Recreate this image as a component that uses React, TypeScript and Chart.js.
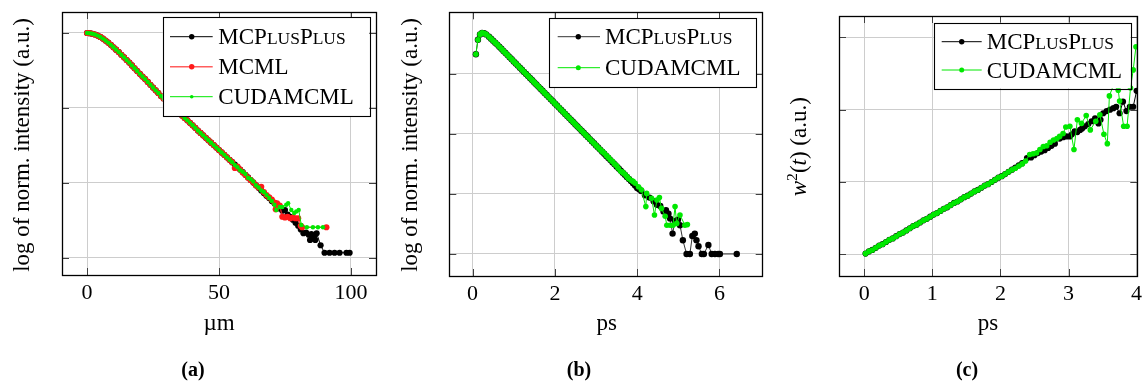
import React, { useEffect, useRef } from 'react';
import { Chart, registerables } from 'chart.js';

Chart.register(...registerables);

const FONT = '"Liberation Serif", "Times New Roman", serif';

// ---------------- Panel (a): radial profile, log of norm. intensity vs µm ----------------
const aXTicks = [0, 50, 100];
const aYTicks = [0, -1, -2, -3];
const aMainX = [0, 1, 2, 3, 4, 5, 6, 7, 8, 9, 10, 11, 12, 13, 14, 15, 16, 17, 18, 19, 20, 21, 22, 23, 24, 25, 26, 27, 28, 29, 30, 31, 32, 33, 34, 35, 36, 37, 38, 39, 40, 41, 42, 43, 44, 45, 46, 47, 48, 49, 50, 51, 52, 53, 54, 55];
const aMainY = [0, -0.003, -0.01, -0.02, -0.035, -0.053, -0.075, -0.1, -0.128, -0.158, -0.19, -0.222, -0.255, -0.29, -0.325, -0.36, -0.395, -0.432, -0.47, -0.507, -0.545, -0.58, -0.615, -0.652, -0.69, -0.727, -0.765, -0.8, -0.84, -0.872, -0.905, -0.938, -0.97, -1.003, -1.035, -1.068, -1.1, -1.133, -1.165, -1.198, -1.23, -1.265, -1.3, -1.333, -1.365, -1.398, -1.43, -1.463, -1.495, -1.528, -1.56, -1.593, -1.625, -1.658, -1.69, -1.723];
const aBlackTailX = [56, 57, 58, 59, 60, 61, 62, 63, 64, 65, 66, 67, 68, 69, 70, 71, 72, 73, 74, 75, 76, 77, 78, 79, 80, 81, 82, 83, 84, 84.5, 85, 85.5, 86, 86.5, 87, 88.5, 90, 91.9, 93.8, 95.7, 98.3, 99.5];
const aBlackTailY = [-1.755, -1.79, -1.82, -1.855, -1.89, -1.925, -1.96, -1.995, -2.03, -2.065, -2.1, -2.135, -2.17, -2.2, -2.24, -2.27, -2.31, -2.34, -2.37, -2.36, -2.42, -2.45, -2.49, -2.53, -2.57, -2.62, -2.67, -2.66, -2.69, -2.76, -2.68, -2.74, -2.72, -2.76, -2.67, -2.83, -2.93, -2.93, -2.93, -2.93, -2.93, -2.93];
const aRedTailX = [56, 57, 58, 59, 60, 61, 62, 63, 64, 65, 66, 67, 68, 69, 70, 71, 71.5, 72, 73, 74, 75, 76, 77, 78, 79, 80, 81, 81.5, 90.7];
const aRedTailY = [-1.8, -1.78, -1.82, -1.86, -1.89, -1.93, -1.96, -1.99, -2.03, -2.06, -2.05, -2.12, -2.16, -2.19, -2.22, -2.26, -2.35, -2.27, -2.3, -2.45, -2.46, -2.45, -2.47, -2.46, -2.47, -2.47, -2.57, -2.59, -2.59];
const aGreenTailX = [56, 57, 58, 59, 60, 61, 62, 63, 64, 65, 66, 67, 68, 69, 70, 71, 71.7, 73, 74, 75.5, 76.2, 77.4, 78.5, 79.3, 80.2, 81.2, 83.3, 85.6, 87.5, 89.4];
const aGreenTailY = [-1.76, -1.79, -1.83, -1.85, -1.88, -1.93, -1.95, -1.98, -2.03, -2.06, -2.1, -2.12, -2.16, -2.2, -2.24, -2.29, -2.36, -2.32, -2.32, -2.29, -2.27, -2.36, -2.4, -2.38, -2.36, -2.56, -2.59, -2.59, -2.59, -2.59];

// ---------------- Panel (b): temporal profile, log of norm. intensity vs ps ----------------
const bXTicks = [0, 2, 4, 6];
const bYTicks = [0, -1, -2, -3];
const bMainX = [0.08, 0.13, 0.18, 0.23, 0.28, 0.33, 0.4, 0.45, 0.5, 0.55, 0.6, 0.65, 0.7, 0.75, 0.8, 0.85, 0.9, 0.95, 1.0, 1.05, 1.1, 1.15, 1.2, 1.25, 1.3, 1.35, 1.4, 1.45, 1.5, 1.55, 1.6, 1.65, 1.7, 1.75, 1.8, 1.85, 1.9, 1.95, 2.0, 2.05, 2.1, 2.15, 2.2, 2.25, 2.3, 2.35, 2.4, 2.45, 2.5, 2.55, 2.6, 2.65, 2.7, 2.75, 2.8, 2.85, 2.9, 2.95, 3.0, 3.05, 3.1];
const bMainY = [0.33, 0.57, 0.66, 0.685, 0.68, 0.66, 0.62, 0.588, 0.555, 0.522, 0.49, 0.455, 0.42, 0.385, 0.35, 0.315, 0.28, 0.245, 0.21, 0.175, 0.14, 0.105, 0.07, 0.035, 0.0, -0.035, -0.07, -0.105, -0.14, -0.175, -0.21, -0.245, -0.28, -0.315, -0.35, -0.385, -0.42, -0.455, -0.49, -0.525, -0.56, -0.595, -0.63, -0.665, -0.7, -0.735, -0.77, -0.805, -0.84, -0.875, -0.91, -0.945, -0.98, -1.015, -1.05, -1.085, -1.12, -1.155, -1.19, -1.225, -1.26];
const bBlackTailX = [3.15, 3.2, 3.25, 3.3, 3.35, 3.4, 3.45, 3.5, 3.55, 3.6, 3.65, 3.7, 3.75, 3.8, 3.85, 3.9, 3.95, 4.0, 4.05, 4.1, 4.19, 4.3, 4.4, 4.48, 4.56, 4.64, 4.7, 4.76, 4.8, 4.86, 4.92, 4.99, 5.04, 5.11, 5.2, 5.28, 5.34, 5.4, 5.44, 5.49, 5.57, 5.62, 5.73, 5.81, 5.89, 5.97, 6.01, 6.42];
const bBlackTailY = [-1.295, -1.33, -1.365, -1.4, -1.435, -1.47, -1.505, -1.54, -1.575, -1.61, -1.645, -1.68, -1.715, -1.75, -1.785, -1.82, -1.86, -1.9, -1.92, -1.95, -2.02, -2.06, -2.12, -2.18, -2.2, -2.29, -2.27, -2.33, -2.41, -2.66, -2.45, -2.43, -2.52, -2.77, -3.0, -3.0, -2.7, -2.66, -2.77, -2.87, -3.0, -3.0, -2.85, -3.0, -3.0, -3.0, -3.0, -3.0];
const bGreenTailX = [3.15, 3.2, 3.25, 3.3, 3.35, 3.4, 3.45, 3.5, 3.54, 3.6, 3.65, 3.7, 3.75, 3.79, 3.85, 3.9, 3.95, 4.03, 4.1, 4.21, 4.23, 4.35, 4.42, 4.48, 4.54, 4.59, 4.68, 4.72, 4.8, 4.87, 4.92, 4.96, 5.04, 5.16, 5.22];
const bGreenTailY = [-1.29, -1.32, -1.36, -1.39, -1.43, -1.46, -1.5, -1.53, -1.57, -1.62, -1.64, -1.67, -1.71, -1.74, -1.77, -1.79, -1.82, -1.88, -1.93, -2.21, -1.99, -2.07, -2.35, -2.1, -2.06, -2.24, -2.37, -2.52, -2.52, -2.52, -2.21, -2.49, -2.35, -2.52, -2.51];

// ---------------- Panel (c): w^2(t) vs ps ----------------
const cXTicks = [0, 1, 2, 3, 4];
const cYTicks = [0, 1, 2, 3];
const cMainX = [0.02, 0.07, 0.12, 0.17, 0.22, 0.27, 0.32, 0.37, 0.42, 0.47, 0.52, 0.57, 0.62, 0.67, 0.72, 0.77, 0.82, 0.87, 0.92, 0.97, 1.02, 1.07, 1.12, 1.17, 1.22, 1.27, 1.32, 1.37, 1.42, 1.47, 1.52, 1.57, 1.62, 1.67, 1.72, 1.77, 1.82, 1.87, 1.92, 1.97, 2.02, 2.07, 2.12, 2.17];
const cMainY = [0.01, 0.04, 0.06, 0.09, 0.12, 0.14, 0.17, 0.2, 0.22, 0.25, 0.28, 0.3, 0.33, 0.36, 0.39, 0.41, 0.44, 0.47, 0.49, 0.52, 0.55, 0.57, 0.6, 0.63, 0.65, 0.68, 0.71, 0.73, 0.76, 0.79, 0.81, 0.84, 0.87, 0.89, 0.92, 0.95, 0.97, 1.0, 1.03, 1.06, 1.08, 1.11, 1.14, 1.17];
const cBlackTailX = [2.22, 2.27, 2.32, 2.39, 2.45, 2.5, 2.55, 2.6, 2.65, 2.7, 2.75, 2.8, 2.87, 2.92, 2.97, 3.02, 3.05, 3.09, 3.13, 3.17, 3.2, 3.24, 3.29, 3.34, 3.39, 3.44, 3.47, 3.51, 3.56, 3.61, 3.66, 3.7, 3.75, 3.8, 3.85, 3.9, 3.95, 4.0];
const cBlackTailY = [1.2, 1.23, 1.26, 1.33, 1.34, 1.37, 1.4, 1.42, 1.44, 1.47, 1.5, 1.53, 1.6, 1.62, 1.63, 1.63, 1.66, 1.7, 1.69, 1.72, 1.74, 1.77, 1.8, 1.84, 1.88, 1.81, 1.86, 1.95, 1.98, 2.0, 2.02, 2.04, 1.95, 2.11, 1.98, 2.04, 2.04, 2.26];
const cGreenTailX = [2.22, 2.27, 2.32, 2.37, 2.43, 2.48, 2.53, 2.58, 2.63, 2.68, 2.73, 2.78, 2.83, 2.87, 2.92, 2.96, 3.02, 3.08, 3.13, 3.19, 3.26, 3.32, 3.4, 3.46, 3.52, 3.57, 3.6, 3.68, 3.73, 3.75, 3.81, 3.86, 3.91, 3.95, 3.99];
const cGreenTailY = [1.19, 1.22, 1.25, 1.29, 1.38, 1.39, 1.4, 1.45, 1.49, 1.5, 1.55, 1.58, 1.6, 1.63, 1.67, 1.76, 1.77, 1.45, 1.86, 1.81, 1.92, 1.72, 1.84, 1.93, 1.66, 1.53, 2.19, 2.39, 2.27, 2.12, 1.77, 1.77, 2.3, 2.55, 2.87];

// ---------------- Labels ----------------
const labelMCPP = [{ t: 'MCP' }, { t: 'lus', sc: true }, { t: 'P' }, { t: 'lus', sc: true }];
const labelMCML = [{ t: 'MCML' }];
const labelCUDA = [{ t: 'CUDAMCML' }];
const yTitleLog = [{ t: 'log of norm. intensity (a.u.)' }];
const yTitleW = [{ t: 'w', it: true }, { t: '2', sup: true }, { t: '(' }, { t: 't', it: true }, { t: ')' }, { t: ' (a.u.)' }];

const BLACK = '#000000';
const RED = '#ff1a1a';
const GREEN = 'rgb(0,232,0)';

type Seg = { t: string; sc?: boolean; it?: boolean; sup?: boolean };

function drawSegs(ctx: CanvasRenderingContext2D, segs: Seg[], x: number, y: number, size: number, align: 'left' | 'center', weight = '') {
  const fontFor = (s: Seg) => `${s.it ? 'italic ' : ''}${weight}${(s.sc ? 0.76 : s.sup ? 0.68 : 1) * size}px ${FONT}`;
  const txt = (s: Seg) => (s.sc ? s.t.toUpperCase() : s.t);
  let total = 0;
  for (const s of segs) {
    ctx.font = fontFor(s);
    total += ctx.measureText(txt(s)).width;
  }
  let cx = align === 'center' ? x - total / 2 : x;
  ctx.textAlign = 'left';
  ctx.textBaseline = 'alphabetic';
  for (const s of segs) {
    ctx.font = fontFor(s);
    ctx.fillText(txt(s), cx, s.sup ? y - size * 0.4 : y);
    cx += ctx.measureText(txt(s)).width;
  }
}

const pts = (xs: number[], ys: number[]) => xs.map((x, i) => ({ x, y: ys[i] }));

type SeriesDef = { label: Seg[]; xs: number[]; ys: number[]; color: string; lineColor: string; lineWidth: number; radius: number; legendRadius: number; order: number };

type PanelDef = {
  left: number; W: number; H: number;
  area: { l: number; r: number; t: number; b: number };
  xMin: number; xMax: number; yMin: number; yMax: number;
  xTicks: number[]; yTicks: number[];
  series: SeriesDef[];
  legend: { x0: number; x1: number; y0: number; y1: number; rows: number[]; s0: number; s1: number; m: number; tx: number };
  xTitle: string; xTitleX: number;
  yTitle: Seg[]; yTitleX: number; yTitleY: number;
  caption: string; captionX: number;
};

const panels: PanelDef[] = [
  {
    left: 0, W: 380, H: 383,
    area: { l: 62, r: 376, t: 12, b: 275 },
    xMin: -9.5, xMax: 109.5, yMin: -3.227, yMax: 0.28,
    xTicks: aXTicks, yTicks: aYTicks,
    series: [
      { label: labelMCPP, xs: [...aMainX, ...aBlackTailX], ys: [...aMainY, ...aBlackTailY], color: BLACK, lineColor: BLACK, lineWidth: 1, radius: 3.1, legendRadius: 2.7, order: 3 },
      { label: labelMCML, xs: [...aMainX, ...aRedTailX], ys: [...aMainY, ...aRedTailY], color: RED, lineColor: 'rgba(255,40,40,0.75)', lineWidth: 1.6, radius: 3.1, legendRadius: 2.7, order: 2 },
      { label: labelCUDA, xs: [...aMainX, ...aGreenTailX], ys: [...aMainY, ...aGreenTailY], color: GREEN, lineColor: GREEN, lineWidth: 1, radius: 2.2, legendRadius: 1.8, order: 1 },
    ],
    legend: { x0: 162.7, x1: 369.3, y0: 17.3, y1: 116, rows: [36.7, 66.7, 96.7], s0: 170, s1: 212.7, m: 191.7, tx: 218.3 },
    xTitle: 'µm', xTitleX: 219,
    yTitle: yTitleLog, yTitleX: 29, yTitleY: 145,
    caption: '(a)', captionX: 193,
  },
  {
    left: 380, W: 390, H: 383,
    area: { l: 69.3, r: 382.7, t: 12.3, b: 276 },
    xMin: -0.566, xMax: 7.05, yMin: -3.367, yMax: 1.028,
    xTicks: bXTicks, yTicks: bYTicks,
    series: [
      { label: labelMCPP, xs: [...bMainX, ...bBlackTailX], ys: [...bMainY, ...bBlackTailY], color: BLACK, lineColor: 'rgba(0,0,0,0.8)', lineWidth: 1, radius: 3.2, legendRadius: 2.7, order: 2 },
      { label: labelCUDA, xs: [...bMainX, ...bGreenTailX], ys: [...bMainY, ...bGreenTailY], color: GREEN, lineColor: GREEN, lineWidth: 1, radius: 2.8, legendRadius: 2.5, order: 1 },
    ],
    legend: { x0: 169.3, x1: 376.7, y0: 18.3, y1: 87.3, rows: [36.7, 67.7], s0: 177.7, s1: 220, m: 198.3, tx: 225 },
    xTitle: 'ps', xTitleX: 226.7,
    yTitle: yTitleLog, yTitleX: 36.7, yTitleY: 145,
    caption: '(b)', captionX: 199,
  },
  {
    left: 760, W: 385, H: 383,
    area: { l: 79, r: 377.3, t: 16, b: 276 },
    xMin: -0.37, xMax: 4.01, yMin: -0.3, yMax: 3.295,
    xTicks: cXTicks, yTicks: cYTicks,
    series: [
      { label: labelMCPP, xs: [...cMainX, ...cBlackTailX], ys: [...cMainY, ...cBlackTailY], color: BLACK, lineColor: BLACK, lineWidth: 1, radius: 3.1, legendRadius: 2.7, order: 2 },
      { label: labelCUDA, xs: [...cMainX, ...cGreenTailX], ys: [...cMainY, ...cGreenTailY], color: GREEN, lineColor: GREEN, lineWidth: 1, radius: 2.8, legendRadius: 2.5, order: 1 },
    ],
    legend: { x0: 173.7, x1: 370.7, y0: 22.7, y1: 88.3, rows: [41.7, 70], s0: 181.7, s1: 221.7, m: 201.7, tx: 226.7 },
    xTitle: 'ps', xTitleX: 228,
    yTitle: yTitleW, yTitleX: 46, yTitleY: 146.7,
    caption: '(c)', captionX: 207,
  },
];

const decorPlugin = {
  id: 'decor',
  afterDraw(chart: any, _args: any, opts: any) {
    const p: PanelDef = opts.panel;
    if (!p) return;
    const ctx: CanvasRenderingContext2D = chart.ctx;
    const a = chart.chartArea;
    const xs = chart.scales.x;
    const ys = chart.scales.y;
    ctx.save();
    // inward tick marks
    ctx.strokeStyle = '#404040';
    ctx.lineWidth = 1;
    ctx.beginPath();
    for (const v of p.xTicks) {
      const q = Math.round(xs.getPixelForValue(v)) + 0.5;
      ctx.moveTo(q, a.bottom); ctx.lineTo(q, a.bottom - 7);
      ctx.moveTo(q, a.top); ctx.lineTo(q, a.top + 7);
    }
    for (const v of p.yTicks) {
      const q = Math.round(ys.getPixelForValue(v)) + 0.5;
      ctx.moveTo(a.left, q); ctx.lineTo(a.left + 7, q);
      ctx.moveTo(a.right, q); ctx.lineTo(a.right - 7, q);
    }
    ctx.stroke();
    // axis box
    ctx.strokeStyle = '#000';
    ctx.lineWidth = 1.3;
    ctx.strokeRect(Math.round(a.left) + 0.5, Math.round(a.top) + 0.5, Math.round(a.right - a.left), Math.round(a.bottom - a.top));

    // legend
    const L = p.legend;
    ctx.fillStyle = '#fff';
    ctx.fillRect(L.x0, L.y0, L.x1 - L.x0, L.y1 - L.y0);
    ctx.strokeStyle = '#000';
    ctx.lineWidth = 1.1;
    ctx.strokeRect(Math.round(L.x0) + 0.5, Math.round(L.y0) + 0.5, Math.round(L.x1 - L.x0), Math.round(L.y1 - L.y0));
    p.series.forEach((s, i) => {
      const ry = L.rows[i];
      ctx.strokeStyle = s.lineColor;
      ctx.lineWidth = s.lineWidth;
      ctx.beginPath();
      ctx.moveTo(L.s0, ry); ctx.lineTo(L.s1, ry);
      ctx.stroke();
      ctx.fillStyle = s.color;
      ctx.beginPath();
      ctx.arc(L.m, ry, s.legendRadius, 0, Math.PI * 2);
      ctx.fill();
      ctx.fillStyle = '#000';
      drawSegs(ctx, s.label, L.tx, ry + 7.6, 23, 'left');
    });

    // axis titles
    ctx.fillStyle = '#000';
    drawSegs(ctx, [{ t: p.xTitle }], p.xTitleX, 330, 23, 'center');
    ctx.save();
    ctx.translate(p.yTitleX, p.yTitleY);
    ctx.rotate(-Math.PI / 2);
    drawSegs(ctx, p.yTitle, 0, 0, 23, 'center');
    ctx.restore();
    // caption
    drawSegs(ctx, [{ t: p.caption }], p.captionX, 376, 20, 'center', 'bold ');
    ctx.restore();
  },
};

function Panel({ p }: { p: PanelDef }) {
  const ref = useRef<HTMLCanvasElement | null>(null);
  useEffect(() => {
    if (!ref.current) return;
    const chart = new Chart(ref.current, {
      type: 'scatter',
      data: {
        datasets: p.series.map((s) => ({
          label: s.label.map((g) => g.t).join(''),
          data: pts(s.xs, s.ys),
          showLine: true,
          borderColor: s.lineColor,
          borderWidth: s.lineWidth,
          pointRadius: s.radius,
          pointBackgroundColor: s.color,
          pointBorderWidth: 0,
          pointHoverRadius: s.radius,
          order: s.order,
          tension: 0,
        })),
      },
      options: {
        animation: false,
        responsive: false,
        maintainAspectRatio: false,
        events: [],
        layout: { padding: { left: 0, top: p.area.t, right: p.W - p.area.r, bottom: 0 } },
        plugins: {
          legend: { display: false },
          tooltip: { enabled: false },
          decor: { panel: p },
        } as any,
        scales: {
          x: {
            type: 'linear',
            min: p.xMin,
            max: p.xMax,
            afterBuildTicks: (sc: any) => { sc.ticks = p.xTicks.map((v) => ({ value: v })); },
            afterFit: (sc: any) => { sc.height = p.H - p.area.b; sc.paddingLeft = 0; sc.paddingRight = 0; },
            ticks: { color: '#000', font: { family: FONT, size: 22 }, padding: 5, maxRotation: 0, autoSkip: false, callback: (v: any) => String(v) },
            grid: { color: '#cdcdcd', lineWidth: 1, drawTicks: false },
            border: { display: false },
          },
          y: {
            type: 'linear',
            min: p.yMin,
            max: p.yMax,
            afterBuildTicks: (sc: any) => { sc.ticks = p.yTicks.map((v) => ({ value: v })); },
            afterFit: (sc: any) => { sc.width = p.area.l; sc.paddingTop = 0; sc.paddingBottom = 0; },
            ticks: { display: false },
            grid: { color: '#cdcdcd', lineWidth: 1, drawTicks: false },
            border: { display: false },
          },
        },
      },
      plugins: [decorPlugin as any],
    } as any);
    return () => chart.destroy();
  }, [p]);
  return (
    <canvas
      ref={ref}
      width={p.W}
      height={p.H}
      style={{ position: 'absolute', left: p.left, top: 0, width: p.W, height: p.H }}
    />
  );
}

export default function App() {
  return (
    <div style={{ position: 'absolute', left: 0, top: 0, width: 1145, height: 383, background: '#fff', overflow: 'hidden' }}>
      {panels.map((p, i) => (
        <Panel key={i} p={p} />
      ))}
    </div>
  );
}
